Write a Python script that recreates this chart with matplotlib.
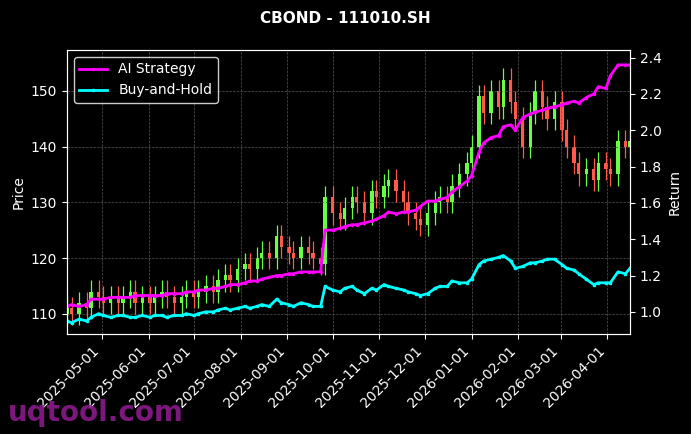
import numpy as np
import pandas as pd
import matplotlib.pyplot as plt
import matplotlib.dates as mdates

# 3-business-day samples, 2025-04-08 .. 2026-04-16
close = [111, 110, 112, 111, 114, 113,
         112, 113, 112, 113, 114, 112, 113,
         112, 113, 114, 113, 112, 113, 114,
         113, 114, 115, 114, 116, 117, 116, 118,
         119, 118, 120, 121, 120, 124, 122,
         121, 120, 122, 121, 120, 119, 131,
         128, 127, 129, 131, 130, 128, 132, 131,
         133, 134, 132, 130, 128, 127, 126,
         128, 130, 131, 130, 133, 135, 137,
         140, 149, 146, 150, 147, 152, 148, 145,
         140, 146, 150, 147, 145, 148,
         143, 140, 137, 135, 136, 134, 137, 136,
         135, 141, 140, 141]
ai_strategy = [1.03, 1.04, 1.03, 1.04, 1.07, 1.07,
               1.07, 1.08, 1.08, 1.08, 1.08, 1.09, 1.09,
               1.09, 1.09, 1.09, 1.10, 1.10, 1.10, 1.11,
               1.11, 1.12, 1.12, 1.13, 1.13, 1.14, 1.15, 1.15,
               1.16, 1.17, 1.17, 1.18, 1.19, 1.20, 1.20,
               1.21, 1.21, 1.22, 1.22, 1.22, 1.22, 1.45,
               1.45, 1.46, 1.47, 1.48, 1.48, 1.49, 1.50, 1.51,
               1.53, 1.55, 1.54, 1.55, 1.55, 1.56, 1.58,
               1.61, 1.61, 1.62, 1.63, 1.66, 1.69, 1.72,
               1.75, 1.88, 1.93, 1.96, 1.97, 2.02, 2.03, 2.00,
               2.07, 2.09, 2.10, 2.11, 2.12, 2.13,
               2.14, 2.15, 2.16, 2.15, 2.18, 2.20, 2.24, 2.23,
               2.30, 2.36, 2.36, 2.36]
buy_hold = [0.95, 0.94, 0.96, 0.95, 0.97, 0.99,
            0.98, 0.97, 0.98, 0.98, 0.97, 0.97, 0.98,
            0.97, 0.98, 0.98, 0.97, 0.98, 0.98, 0.99,
            0.98, 0.99, 1.00, 1.00, 1.01, 1.02, 1.01, 1.02,
            1.03, 1.02, 1.03, 1.04, 1.03, 1.07, 1.05,
            1.04, 1.03, 1.05, 1.04, 1.03, 1.03, 1.14,
            1.12, 1.11, 1.13, 1.14, 1.12, 1.10, 1.13, 1.12,
            1.15, 1.14, 1.13, 1.12, 1.11, 1.10, 1.09,
            1.10, 1.13, 1.14, 1.14, 1.17, 1.16, 1.16,
            1.18, 1.26, 1.28, 1.29, 1.30, 1.31, 1.28, 1.24,
            1.25, 1.27, 1.27, 1.28, 1.29, 1.29,
            1.26, 1.24, 1.23, 1.21, 1.18, 1.15, 1.16, 1.16,
            1.16, 1.22, 1.21, 1.24]

dates = pd.bdate_range("2025-04-08", periods=len(close), freq="3B")
close = np.array(close, dtype=float)
opens = np.r_[close[0] - 1, close[:-1]]
wick = 2.0

fig = plt.figure(figsize=(6.91, 4.34), dpi=100, facecolor="black")
ax = fig.add_axes([67 / 691, 100 / 434, 563 / 691, 284 / 434], facecolor="black")
ax2 = ax.twinx()

x = mdates.date2num(dates)
up = close >= opens
col = np.where(up, "#66ff44", "#ff5a4a")
ax.vlines(x, np.minimum(opens, close) - wick, np.maximum(opens, close) + wick, colors=col, linewidth=0.9)
ax.bar(x, np.abs(close - opens), bottom=np.minimum(opens, close), width=2.2, color=col, linewidth=0)

ax2.plot(dates, ai_strategy, color="#ff00ff", lw=2, marker="o", ms=1.5, label="AI Strategy")
ax2.plot(dates, buy_hold, color="#00ffff", lw=2, marker="s", ms=1.5, label="Buy-and-Hold")

ax.set_xlim(pd.Timestamp("2025-04-08"), pd.Timestamp("2026-04-16"))
ax.set_ylim(106.4, 157.3)
ax2.set_ylim(0.878, 2.442)
ax.set_yticks([110, 120, 130, 140, 150])
ax.xaxis.set_major_locator(mdates.MonthLocator())
ax.xaxis.set_major_formatter(mdates.DateFormatter("%Y-%m-%d"))
plt.setp(ax.get_xticklabels(), rotation=45, ha="right")

ax.grid(True, linestyle="--", linewidth=0.5, color="#555555")
for a in (ax, ax2):
    a.tick_params(colors="white", labelsize=10)
    for s in a.spines.values():
        s.set_color("white")
ax.set_ylabel("Price", color="white")
ax2.set_ylabel("Return", color="white")

leg = ax2.legend(loc="upper left", facecolor="black", edgecolor="white", fontsize=10)
for t in leg.get_texts():
    t.set_color("white")

fig.suptitle("CBOND - 111010.SH", color="white", fontweight="bold", fontsize=11, y=0.975)
fig.text(0.012, 0.03, "uqtool.com", color="#8b1a8b", fontsize=20, fontweight="bold", alpha=0.9)

fig.savefig("out.png", dpi=100, facecolor="black")
